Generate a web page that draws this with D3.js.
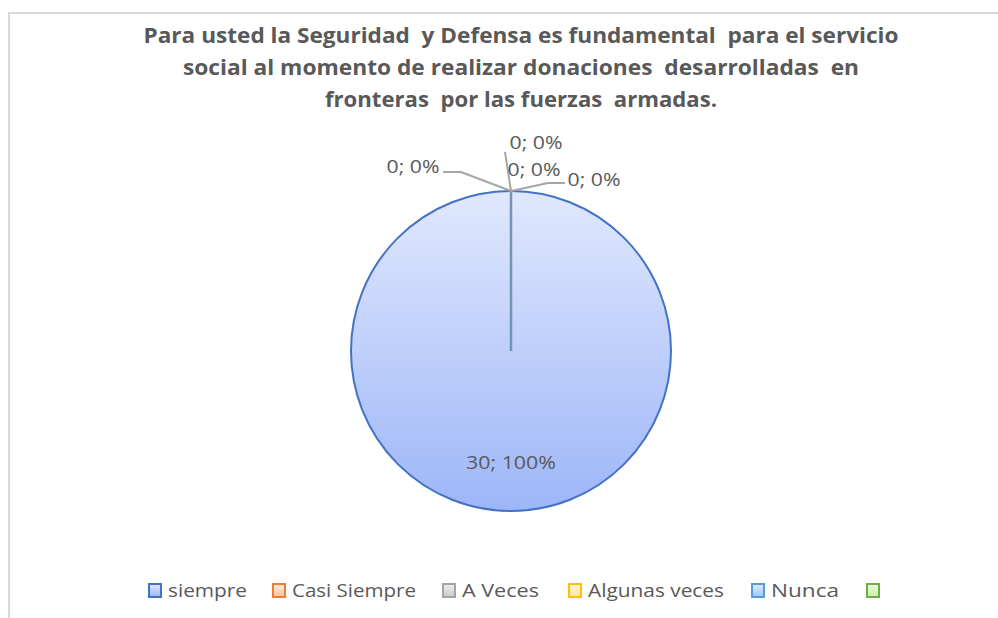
<!DOCTYPE html>
<html>
<head>
<meta charset="utf-8">
<script src="https://cdn.jsdelivr.net/npm/d3@7"></script>
<style>
  body { margin: 0; background: #fff; }
  text { font-family: "Liberation Sans Narrow", "Open Sans", sans-serif; white-space: pre; }
</style>
</head>
<body>
<div id="my_dataviz"></div>
<script>
// data
var categories = ["siempre", "Casi Siempre", "A Veces", "Algunas veces", "Nunca", ""];
var values = [30, 0, 0, 0, 0, null];
var titleLines = [
    "Para usted la Seguridad  y Defensa es fundamental  para el servicio",
    "social al momento de realizar donaciones  desarrolladas  en",
    "fronteras  por las fuerzas  armadas."
];
var seriesColors = ["#4472c4", "#ed7d31", "#a5a5a5", "#ffc000", "#5b9bd5", "#70ad47"];

var width = 998, height = 618;

var svg = d3.select("#my_dataviz")
    .append("svg")
    .attr("width", width)
    .attr("height", height);

// chart border
svg.append("rect")
    .attr("x", 9).attr("y", 13)
    .attr("width", 1000).attr("height", 620)
    .attr("fill", "#fff")
    .attr("stroke", "#d9d9d9")
    .attr("stroke-width", 2);

// gradient fills (light tint on top, deeper at bottom)
var defs = svg.append("defs");
function tint(c, l) {
    var h = d3.hsl(c);
    if (h.s > 0.1) h.s = Math.min(1, h.s + 0.35);
    if (h.h > 200 && h.h < 240) h.h += 5;
    h.l = l;
    return h.formatHex();
}
seriesColors.forEach(function (c, i) {
    var g = defs.append("linearGradient")
        .attr("id", "grad" + i)
        .attr("x1", 0).attr("y1", 0).attr("x2", 0).attr("y2", 1);
    g.append("stop").attr("offset", "0%").attr("stop-color", tint(c, 0.935));
    g.append("stop").attr("offset", "100%").attr("stop-color", tint(c, 0.795));
});

// title
var titleWidths = [755, 676, 392];
svg.append("g")
    .selectAll("text")
    .data(titleLines)
    .enter()
    .append("text")
    .attr("x", 521)
    .attr("y", function (d, i) { return 43 + i * 32; })
    .attr("text-anchor", "middle")
    .attr("textLength", function (d, i) { return titleWidths[i]; })
    .attr("lengthAdjust", "spacingAndGlyphs")
    .style("font-size", "22px")
    .style("font-weight", "bold")
    .style("fill", "#595959")
    .text(function (d) { return d; });

// pie
var radius = 160;
var cx = 511, cy = 351;
var data = categories.map(function (c, i) { return { name: c, value: values[i], idx: i }; })
    .filter(function (d) { return d.value !== null; });
var total = d3.sum(data, function (d) { return d.value; });

var pie = d3.pie().sort(null).value(function (d) { return d.value; });
var arcs = pie(data);
var arc = d3.arc().innerRadius(0).outerRadius(radius);
var labelArc = d3.arc().innerRadius(radius * 0.7).outerRadius(radius * 0.7);

var g = svg.append("g").attr("transform", "translate(" + cx + "," + cy + ")");

g.selectAll("path")
    .data(arcs.filter(function (d) { return d.value > 0; }))
    .enter()
    .append("path")
    .attr("d", arc)
    .attr("fill", function (d) { return "url(#grad" + d.data.idx + ")"; })
    .attr("stroke", function (d) { return seriesColors[d.data.idx]; })
    .attr("stroke-width", 2);

// slice edge at angle 0 (where zero slices sit)
g.append("line")
    .attr("x1", 0).attr("y1", 0)
    .attr("x2", 0).attr("y2", -radius)
    .attr("stroke", "#6f96b6")
    .attr("stroke-width", 2.5);

function pct(v) { return Math.round(v / total * 100) + "%"; }

// big label
g.selectAll(".biglabel")
    .data(arcs.filter(function (d) { return d.value > 0; }))
    .enter()
    .append("text")
    .attr("x", function (d) { return labelArc.centroid(d)[0]; })
    .attr("y", function (d) { return labelArc.centroid(d)[1] + 6; })
    .attr("text-anchor", "middle")
    .attr("textLength", 90)
    .attr("lengthAdjust", "spacingAndGlyphs")
    .style("font-size", "18px")
    .style("fill", "#595959")
    .text(function (d) { return d.value + "; " + pct(d.value); });

// zero-slice labels, placed off the pie edge like Excel does
var zeroOffsets = [[-98, -24], [25, -48], [23, -21], [83, -11]];
var zeroLeaders = [
    [[0, 0], [-50, -19], [-68, -19]],
    [[0, 0], [-6, -39]],
    [],
    [[0, 0], [37, -8], [54, -8]]
];
var zeros = arcs.filter(function (d) { return d.value === 0; });
var edge = [0, -radius];

g.selectAll(".leader")
    .data(zeros)
    .enter()
    .append("path")
    .attr("d", function (d, i) {
        var pts = zeroLeaders[i];
        if (!pts.length) return null;
        return d3.line()(pts.map(function (p) { return [edge[0] + p[0], edge[1] + p[1]]; }));
    })
    .attr("fill", "none")
    .attr("stroke", "#a6a6a6")
    .attr("stroke-width", 2);

g.selectAll(".zlabel")
    .data(zeros)
    .enter()
    .append("text")
    .attr("x", function (d, i) { return edge[0] + zeroOffsets[i][0]; })
    .attr("y", function (d, i) { return edge[1] + zeroOffsets[i][1] + 6; })
    .attr("text-anchor", "middle")
    .attr("textLength", 53)
    .attr("lengthAdjust", "spacingAndGlyphs")
    .style("font-size", "18px")
    .style("fill", "#595959")
    .text(function (d) { return d.value + "; " + pct(d.value); });

// legend
var legendX = [148, 272, 442, 568, 751, 866];
var legendW = [79, 124, 77, 136, 68, 0];
var legend = svg.append("g");
var items = legend.selectAll("g")
    .data(categories)
    .enter()
    .append("g")
    .attr("transform", function (d, i) { return "translate(" + legendX[i] + ",583)"; });

items.append("rect")
    .attr("x", 1).attr("y", 1)
    .attr("width", 12).attr("height", 13)
    .attr("fill", function (d, i) { return "url(#grad" + i + ")"; })
    .attr("stroke", function (d, i) { return seriesColors[i]; })
    .attr("stroke-width", 2);

items.filter(function (d) { return d !== ""; })
    .append("text")
    .attr("x", 20)
    .attr("y", 14)
    .attr("textLength", function (d, i) { return legendW[i]; })
    .attr("lengthAdjust", "spacingAndGlyphs")
    .style("font-size", "18px")
    .style("fill", "#595959")
    .text(function (d) { return d; });
</script>
</body>
</html>
